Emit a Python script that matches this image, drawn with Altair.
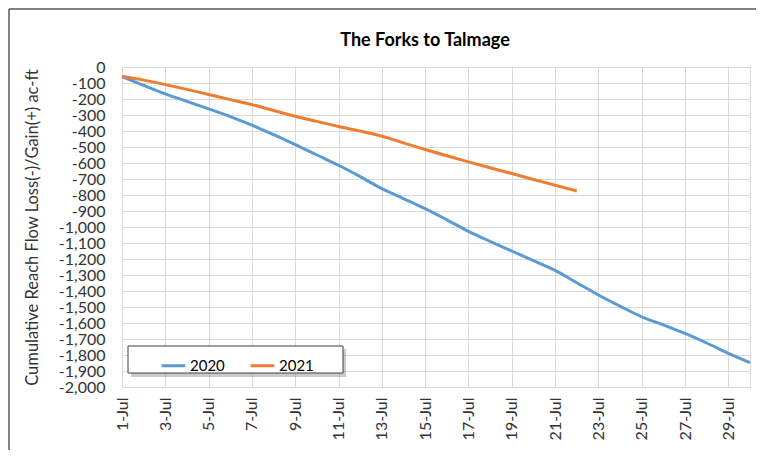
import altair as alt
import pandas as pd

days = ["1-Jul", "2-Jul", "3-Jul", "4-Jul", "5-Jul", "6-Jul", "7-Jul", "8-Jul", "9-Jul", "10-Jul",
        "11-Jul", "12-Jul", "13-Jul", "14-Jul", "15-Jul", "16-Jul", "17-Jul", "18-Jul", "19-Jul", "20-Jul",
        "21-Jul", "22-Jul", "23-Jul", "24-Jul", "25-Jul", "26-Jul", "27-Jul", "28-Jul", "29-Jul", "30-Jul"]
tick_days = ["1-Jul", "3-Jul", "5-Jul", "7-Jul", "9-Jul", "11-Jul", "13-Jul", "15-Jul",
             "17-Jul", "19-Jul", "21-Jul", "23-Jul", "25-Jul", "27-Jul", "29-Jul"]
series = ["2020", "2021"]
colors = ["#5B9BD5", "#ED7D31"]
v2020 = [-60, -115, -168, -215, -262, -310, -364, -423, -485, -550,
         -614, -685, -760, -822, -885, -955, -1027, -1090, -1150, -1210,
         -1271, -1348, -1425, -1495, -1561, -1612, -1665, -1725, -1790, -1848]
v2021 = [-58, -82, -110, -140, -172, -204, -235, -272, -308, -340,
         -372, -400, -433, -474, -516, -555, -593, -630, -666, -703,
         -739, -775]
y_ticks = list(range(-2000, 1, 100))
chart_title = "The Forks to Talmage"

rows = []
for d, v in zip(days, v2020):
    rows.append({"day": d, "value": v, "year": "2020"})
for d, v in zip(days, v2021):
    rows.append({"day": d, "value": v, "year": "2021"})
df = pd.DataFrame(rows)
one = pd.DataFrame({"k": [0]})

FONT = "Lato"
W, H = 628, 320

lines = alt.Chart(df).mark_line(strokeWidth=3, interpolate="monotone").encode(
    x=alt.X("day:O", sort=days, title=None,
            scale=alt.Scale(type="point", padding=0),
            axis=alt.Axis(values=tick_days, labelAngle=270, labelPadding=10, ticks=False,
                          domain=True, domainColor="#D9D9D9", grid=True, gridColor="#D9D9D9",
                          labelFont=FONT, labelFontSize=16, labelColor="#333333")),
    y=alt.Y("value:Q", title="Cumulative Reach Flow Loss(-)/Gain(+) ac-ft",
            scale=alt.Scale(domain=[-2000, 0], nice=False),
            axis=alt.Axis(values=y_ticks, labelExpr="replace(format(datum.value, ','), '\u2212', '-')",
                          ticks=False, domain=False, grid=True, gridColor="#D9D9D9",
                          labelPadding=17, labelOverlap=False,
                          labelFont=FONT, labelFontSize=16, labelColor="#333333",
                          titleFont=FONT, titleFontSize=16.5, titleFontWeight="normal",
                          titleColor="#333333", titlePadding=18)),
    color=alt.Color("year:N", scale=alt.Scale(domain=series, range=colors),
                    legend=alt.Legend(orient="none", legendX=38, legendY=285, direction="horizontal",
                                      title=None, symbolType="stroke", symbolSize=560,
                                      symbolStrokeWidth=3, labelOffset=3, columnPadding=19,
                                      padding=0, labelFont=FONT, labelFontSize=15,
                                      labelColor="#000000"))
)

shadow = alt.Chart(one).mark_rect(fill="#8C8C8C", opacity=0.45).encode(
    x=alt.value(9), x2=alt.value(224), y=alt.value(282), y2=alt.value(310))
box = alt.Chart(one).mark_rect(fill="white", stroke="#404040", strokeWidth=1).encode(
    x=alt.value(6), x2=alt.value(221), y=alt.value(279), y2=alt.value(306))
title = alt.Chart(one).mark_text(text=chart_title, font=FONT, fontSize=18,
                                 fontWeight="bold", color="#000000", align="center",
                                 baseline="middle").encode(x=alt.value(303), y=alt.value(-26))
border_left = alt.Chart(one).mark_rule(stroke="#595959", strokeWidth=1.5).encode(
    x=alt.value(-113), y=alt.value(-58), y2=alt.value(430))
border_top = alt.Chart(one).mark_rule(stroke="#595959", strokeWidth=1.5).encode(
    x=alt.value(-113), x2=alt.value(700), y=alt.value(-58))

chart = alt.layer(border_left, border_top, lines, shadow, box, title).properties(
    width=W, height=H,
    autosize=alt.AutoSizeParams(type="none"),
    padding={"left": 114, "top": 59, "right": 6, "bottom": 63},
).configure_view(strokeWidth=0).configure(background="white")

chart.save("out.html", embed_options={"renderer": "svg", "actions": False})
